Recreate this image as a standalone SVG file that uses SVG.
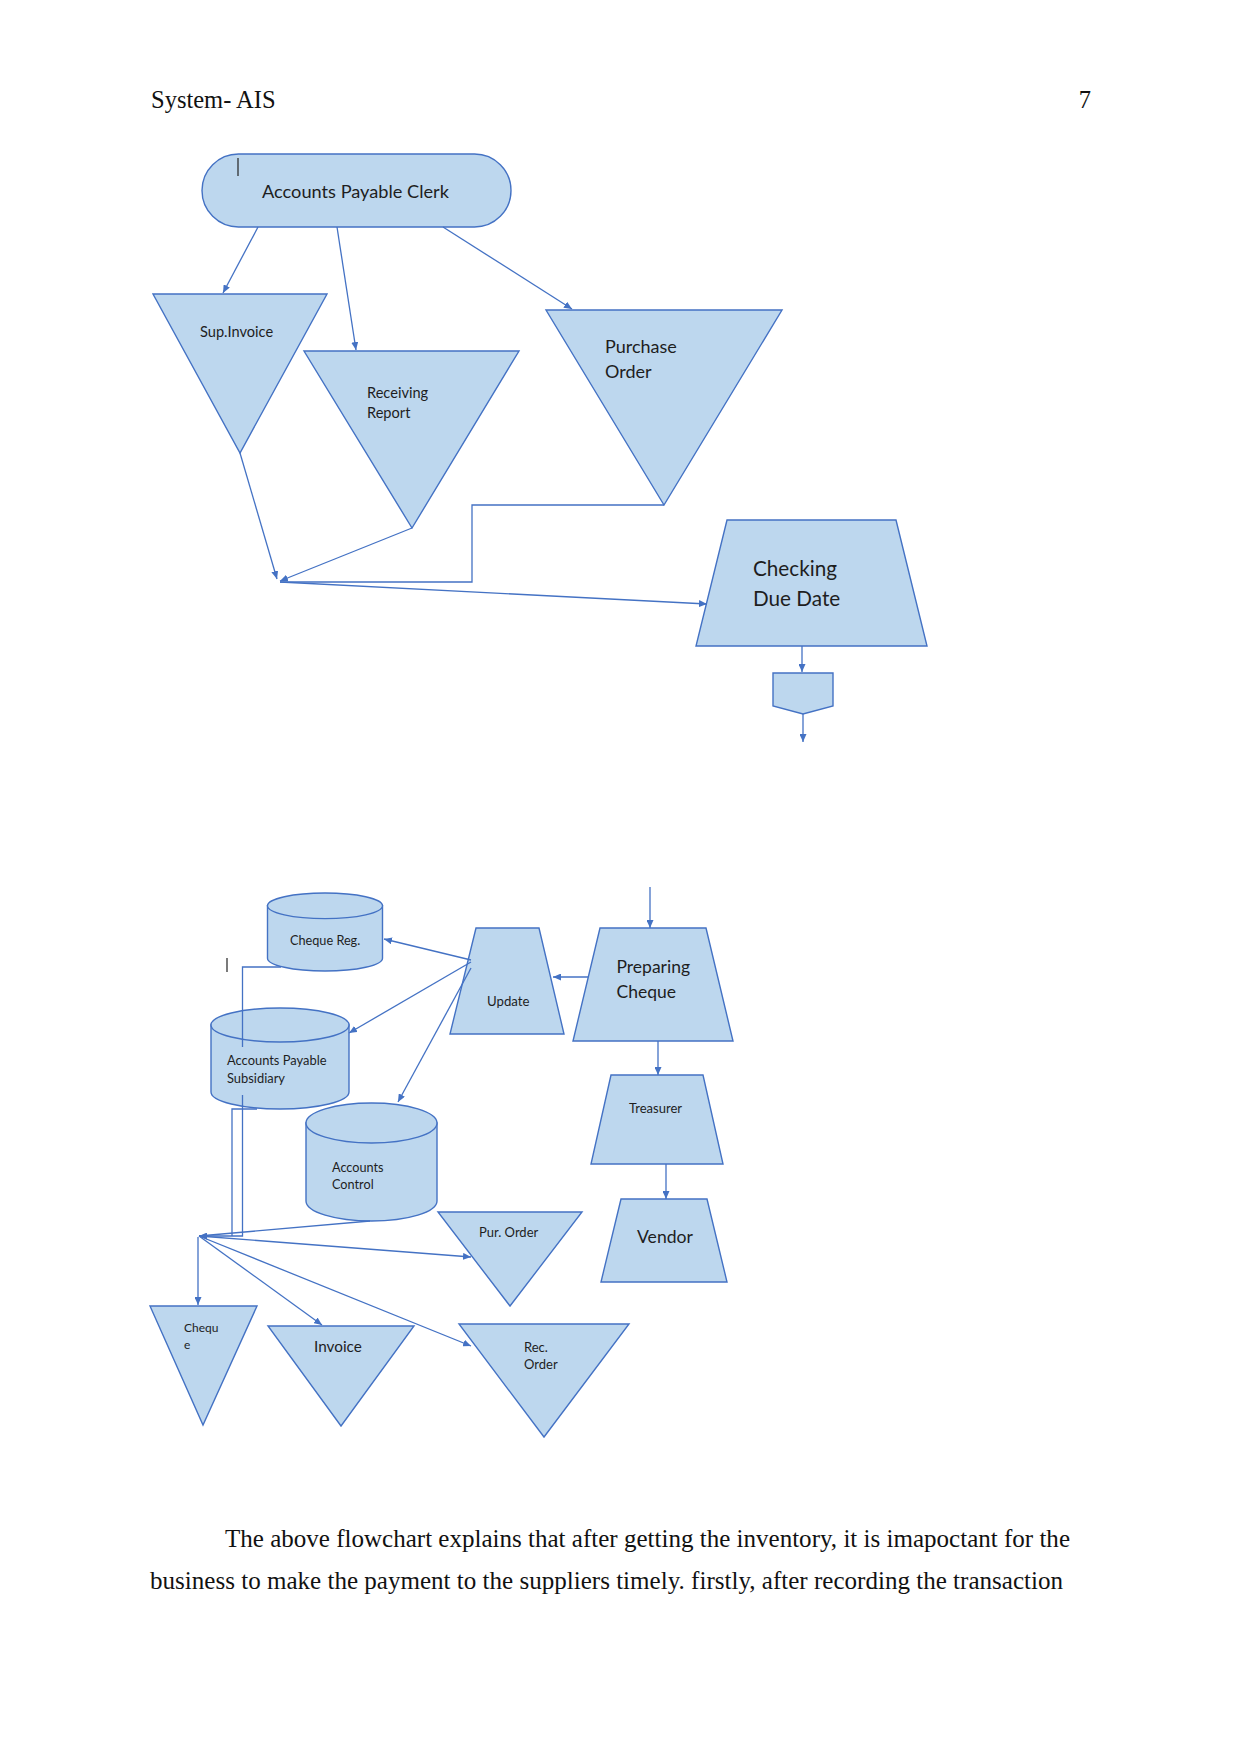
<svg xmlns="http://www.w3.org/2000/svg" width="1241" height="1754" viewBox="0 0 1241 1754">
<defs>
<marker id="ah" viewBox="0 0 8 7" refX="8" refY="3.5" markerWidth="8" markerHeight="7" markerUnits="userSpaceOnUse" orient="auto">
<path d="M0,0 L8,3.5 L0,7 Z" fill="#4472C4"/>
</marker>
</defs>
<style>
.shape{fill:#BDD7EE;stroke:#4472C4;stroke-width:1.4}
.cyl{fill:#BDD7EE;stroke:#4472C4;stroke-width:1.4}
.lbl{font-family:Lato,"Open Sans","Liberation Sans",sans-serif;fill:#1E1E1E}
.con{fill:none;stroke:#4472C4;stroke-width:1.3}
.arr{fill:none;stroke:#4472C4;stroke-width:1.3;marker-end:url(#ah)}
.page{font-family:"Liberation Serif","Times New Roman",serif;fill:#111}
.cur{stroke:#222;stroke-width:1.2}
</style>
<rect width="1241" height="1754" fill="#FFFFFF"/>

<g id="page-text">
<text class="page" x="151" y="108" font-size="24.5">System- AIS</text>
<text class="page" x="1091" y="108" font-size="24.5" text-anchor="end">7</text>
<text class="page" x="225" y="1547" font-size="25" textLength="845" lengthAdjust="spacingAndGlyphs">The above flowchart explains that after getting the inventory, it is imapoctant for the</text>
<text class="page" x="150" y="1589" font-size="25" textLength="913" lengthAdjust="spacingAndGlyphs">business to make the payment to the suppliers timely. firstly, after recording the transaction</text>
</g>

<g id="ap-clerk">
<rect class="shape" x="202" y="154" width="309" height="73" rx="36.5" ry="36.5"/>
<text class="lbl" x="262" y="198" font-size="18.2">Accounts Payable Clerk</text>
</g>
<line class="cur" x1="238" y1="158" x2="238" y2="176"/>

<g id="sup-invoice">
<polygon class="shape" points="153,294 327,294 240,453"/>
<text class="lbl" x="200" y="337" font-size="14.6">Sup.Invoice</text>
</g>

<g id="receiving-report">
<polygon class="shape" points="304,351 519,351 412,528"/>
<text class="lbl" x="367" y="398" font-size="14.6">Receiving</text>
<text class="lbl" x="367" y="418" font-size="14.6">Report</text>
</g>

<g id="purchase-order">
<polygon class="shape" points="546,310 782,310 664,505"/>
<text class="lbl" x="605" y="353" font-size="18">Purchase</text>
<text class="lbl" x="605" y="378" font-size="18">Order</text>
</g>

<g id="checking-due-date">
<polygon class="shape" points="727,520 896,520 927,646 696,646"/>
<text class="lbl" x="753" y="576" font-size="20.7">Checking</text>
<text class="lbl" x="753" y="606" font-size="20.7">Due Date</text>
</g>

<g id="offpage-connector">
<path class="shape" d="M773,673 L833,673 L833,706 L803,714 L773,706 Z"/>
</g>

<g id="cheque-reg">
<path class="cyl" d="M267.5,905.8 L267.5,958.2 A57.5,12.8 0 0 0 382.5,958.2 L382.5,905.8 Z"/>
<ellipse class="cyl" cx="325" cy="905.8" rx="57.5" ry="12.8"/>
<text class="lbl" x="290" y="945" font-size="12.7">Cheque Reg.</text>
</g>
<line class="cur" x1="227" y1="958" x2="227" y2="972"/>

<g id="ap-subsidiary">
<path class="cyl" d="M211,1025 L211,1092 A69,17 0 0 0 349,1092 L349,1025 Z"/>
<ellipse class="cyl" cx="280" cy="1025" rx="69" ry="17"/>
<text class="lbl" x="227" y="1065" font-size="12.9">Accounts Payable</text>
<text class="lbl" x="227" y="1083" font-size="12.9">Subsidiary</text>
</g>

<g id="accounts-control">
<path class="cyl" d="M306,1123 L306,1201 A65.5,20 0 0 0 437,1201 L437,1123 Z"/>
<ellipse class="cyl" cx="371.5" cy="1123" rx="65.5" ry="20"/>
<text class="lbl" x="332" y="1172" font-size="12.7">Accounts</text>
<text class="lbl" x="332" y="1189" font-size="12.7">Control</text>
</g>

<g id="update">
<polygon class="shape" points="476,928 539,928 564,1034 450,1034"/>
<text class="lbl" x="487" y="1006" font-size="13.2">Update</text>
</g>

<g id="preparing-cheque">
<polygon class="shape" points="600,928 706,928 733,1041 573,1041"/>
<text class="lbl" x="616.5" y="973" font-size="17.5">Preparing</text>
<text class="lbl" x="616.5" y="998" font-size="17.5">Cheque</text>
</g>

<g id="treasurer">
<polygon class="shape" points="611,1075 703,1075 723,1164 591,1164"/>
<text class="lbl" x="629" y="1113" font-size="13">Treasurer</text>
</g>

<g id="vendor">
<polygon class="shape" points="621,1199 707,1199 727,1282 601,1282"/>
<text class="lbl" x="637" y="1243" font-size="17.6">Vendor</text>
</g>

<g id="pur-order">
<polygon class="shape" points="438,1212 582,1212 510,1306"/>
<text class="lbl" x="479" y="1237" font-size="13">Pur. Order</text>
</g>

<g id="cheque">
<polygon class="shape" points="150,1306 257,1306 203,1425"/>
<text class="lbl" x="184" y="1332" font-size="12">Chequ</text>
<text class="lbl" x="184" y="1349" font-size="12">e</text>
</g>

<g id="invoice">
<polygon class="shape" points="268,1326 414,1326 341,1426"/>
<text class="lbl" x="314" y="1352" font-size="15.3">Invoice</text>
</g>

<g id="rec-order">
<polygon class="shape" points="459,1324 629,1324 544,1437"/>
<text class="lbl" x="524" y="1352" font-size="13">Rec.</text>
<text class="lbl" x="524" y="1369" font-size="13">Order</text>
</g>

<g id="connectors">
<line class="arr" x1="258" y1="227" x2="223" y2="293"/>
<line class="arr" x1="337" y1="227" x2="356" y2="350"/>
<line class="arr" x1="443" y1="227" x2="572" y2="309"/>
<line class="arr" x1="240" y1="453" x2="277" y2="579"/>
<line class="arr" x1="412" y1="528" x2="280" y2="581"/>
<polyline class="con" points="664,505 472,505 472,582 280,582"/>
<line class="arr" x1="280" y1="582" x2="707" y2="604"/>
<line class="arr" x1="802" y1="646" x2="802" y2="672"/>
<line class="arr" x1="803" y1="714" x2="803" y2="742"/>

<line class="arr" x1="650" y1="887" x2="650" y2="928"/>
<line class="arr" x1="588" y1="977" x2="553" y2="977"/>
<line class="arr" x1="658" y1="1041" x2="658" y2="1075"/>
<line class="arr" x1="666" y1="1164" x2="666" y2="1199"/>
<line class="arr" x1="471" y1="960" x2="384" y2="939"/>
<line class="arr" x1="471" y1="962" x2="349" y2="1033"/>
<line class="arr" x1="471" y1="968" x2="398" y2="1102"/>

<polyline class="con" points="281,967 242.5,967 242.5,1047"/>
<polyline class="con" points="242.5,1095 242.5,1236 232,1236"/>
<polyline class="con" points="257,1109 232,1109 232,1236"/>
<line class="arr" x1="232" y1="1236" x2="199" y2="1236"/>
<line class="con" x1="370" y1="1221" x2="199" y2="1236"/>
<line class="arr" x1="198" y1="1237" x2="198" y2="1305"/>
<line class="arr" x1="199" y1="1236" x2="322" y2="1325"/>
<line class="arr" x1="199" y1="1236" x2="471" y2="1346"/>
<line class="arr" x1="199" y1="1236" x2="471" y2="1257"/>
</g>
</svg>
